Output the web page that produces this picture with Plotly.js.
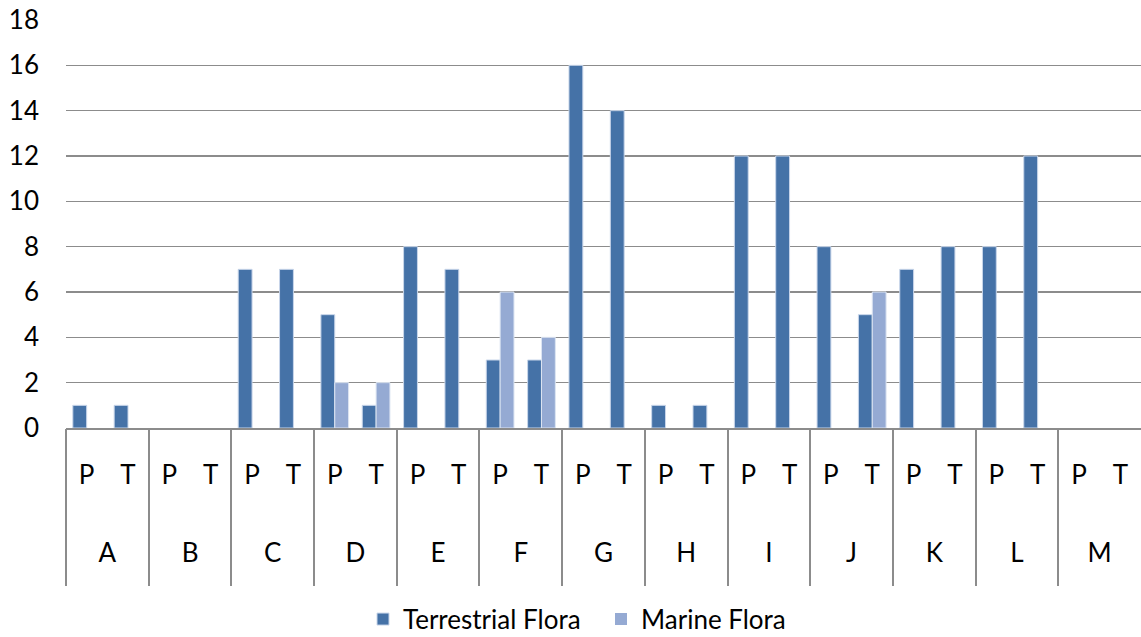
<!DOCTYPE html>
<html><head><meta charset="utf-8">
<script src="https://cdn.plot.ly/plotly-3.0.1.min.js"></script>
<style>html,body{margin:0;padding:0;background:#fff}#chart{width:1141px;height:637px}</style>
</head><body><div id="chart"></div>
<script>
var groups = ["A","B","C","D","E","F","G","H","I","J","K","L","M"];
var subs = ["P","T"];
var terrestrial = [1,1, 0,0, 7,7, 5,1, 8,7, 3,3, 16,14, 1,1, 12,12, 8,5, 7,8, 8,12, 0,0];
var marine      = [0,0, 0,0, 0,0, 2,2, 0,0, 6,4, 0,0, 0,0, 0,0, 0,6, 0,0, 0,0, 0,0];

var subLabels = [], pos = [];
groups.forEach(function(g){ subs.forEach(function(s){ pos.push(subLabels.length); subLabels.push(s); }); });
var groupPos = groups.map(function(g,i){ return i; });
var boundaries = groups.map(function(g,i){ return i - 0.5; });
var empty = groups.map(function(){ return null; });

var FAM = "Lato, Open Sans, sans-serif";
var font = {family: FAM, size: 26, color: "#000"};
var GRAY = "#8c8c8c";
function edge(vals, c){ return {color:c, width: vals.map(function(v){ return v ? 1 : 0; })}; }

var traces = [
  {type:"bar", name:"Terrestrial Flora", x:pos, y:terrestrial,
   marker:{color:"#4572A7", line:edge(terrestrial, "#c9d6ea")}},
  {type:"bar", name:"Marine Flora", x:pos, y:marine,
   marker:{color:"#95AAD3", line:edge(marine, "#dde5f2")}},
  {type:"scatter", mode:"markers", x:groupPos, y:empty, xaxis:"x2", yaxis:"y", showlegend:false, hoverinfo:"skip"},
  {type:"scatter", mode:"markers", x:groupPos, y:empty, xaxis:"x3", yaxis:"y", showlegend:false, hoverinfo:"skip"}
];
var layout = {
  width:1141, height:637,
  margin:{l:66, r:0, t:20, b:209},
  paper_bgcolor:"#fff", plot_bgcolor:"#fff",
  font: font,
  barmode:"group", bargap:0.33, bargroupgap:0,
  showlegend:true,
  legend:{orientation:"h", xref:"container", x:363/1141, xanchor:"left", yref:"container", y:0.028, yanchor:"middle",
    entrywidth:193, entrywidthmode:"pixels", font:font},
  xaxis:{type:"linear", range:[-0.5, subLabels.length-0.5], tickmode:"array", tickvals:pos, ticktext:subLabels,
    showline:true, linecolor:GRAY, linewidth:2, ticks:"", tickfont:font, showgrid:false, zeroline:false,
    ticklabelstandoff:23},
  xaxis2:{type:"linear", overlaying:"x", anchor:"y", side:"bottom", range:[-0.5, groups.length-0.5],
    tickmode:"array", tickvals:groupPos, ticktext:groups, ticks:"", tickfont:font,
    showgrid:false, zeroline:false, showline:false, ticklabelstandoff:107},
  xaxis3:{type:"linear", overlaying:"x", anchor:"y", side:"bottom", range:[-0.5, groups.length-0.5],
    tickmode:"array", tickvals:boundaries, ticks:"outside", ticklen:157, tickwidth:2, tickcolor:GRAY,
    showticklabels:false, showgrid:false, zeroline:false, showline:false},
  yaxis:{range:[0,18], dtick:2, tick0:0, showgrid:true, gridcolor:GRAY, gridwidth:1.5,
    showline:false, zeroline:false, ticks:"", tickfont:font, ticklabelstandoff:26}
};
Plotly.newPlot("chart", traces, layout, {displayModeBar:false, staticPlot:true});
</script></body></html>
